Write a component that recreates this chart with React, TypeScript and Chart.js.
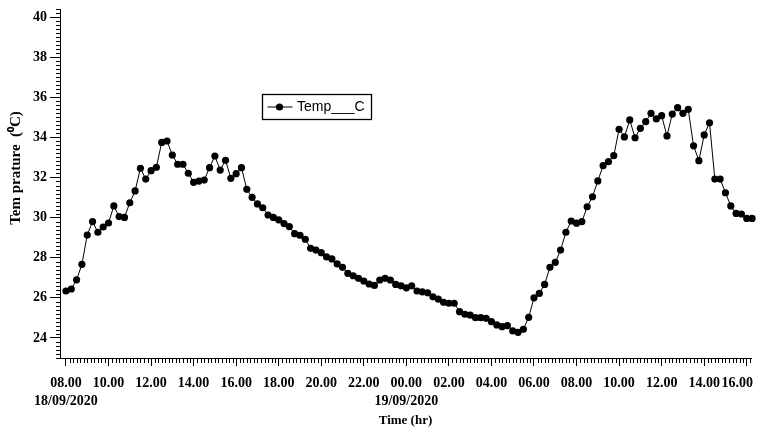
import React, { useEffect, useRef } from 'react';
import { Chart, registerables } from 'chart.js';

Chart.register(...registerables);

// ---- data ----
const seriesLabel = 'Temp___C';
const startClockHour = 8; // 08.00 on 18/09/2020
const stepHours = 0.25; // one reading every 15 minutes
const temperatures = [
  26.34, 26.44, 26.9, 27.67, 29.13, 29.8, 29.27, 29.53, 29.73, 30.58,
  30.05, 30.01, 30.74, 31.33, 32.46, 31.92, 32.34, 32.51, 33.75, 33.82,
  33.12, 32.66, 32.66, 32.21, 31.76, 31.82, 31.87, 32.49, 33.07, 32.37,
  32.86, 31.96, 32.19, 32.49, 31.41, 31.01, 30.68, 30.49, 30.13, 30.01,
  29.89, 29.7, 29.55, 29.2, 29.12, 28.92, 28.47, 28.38, 28.25, 28.04,
  27.94, 27.69, 27.52, 27.22, 27.1, 26.97, 26.84, 26.69, 26.62, 26.89,
  26.97, 26.89, 26.67, 26.6, 26.5, 26.6, 26.34, 26.3, 26.25, 26.05,
  25.94, 25.78, 25.73, 25.73, 25.31, 25.18, 25.14, 25.01, 25.01, 24.98,
  24.81, 24.65, 24.56, 24.61, 24.35, 24.28, 24.43, 25.03, 26.0, 26.22,
  26.67, 27.52, 27.77, 28.38, 29.27, 29.83, 29.72, 29.8, 30.54, 31.04,
  31.83, 32.59, 32.79, 33.09, 34.4, 34.02, 34.87, 33.98, 34.45, 34.78,
  35.2, 34.92, 35.08, 34.07, 35.16, 35.48, 35.2, 35.4, 33.58, 32.84,
  34.12, 34.73, 31.92, 31.92, 31.24, 30.58, 30.21, 30.18, 29.96, 29.96,
];
const xMajorTicks = [0, 2, 4, 6, 8, 10, 12, 14, 16, 18, 20, 22, 24, 26, 28, 30, 32];
const dateTickHours = [0, 16];
const dateTickLabels = ['18/09/2020', '19/09/2020'];
const yMajorTicks = [24, 26, 28, 30, 32, 34, 36, 38, 40];
const xTitle = 'Time (hr)';
const yTitle = 'Tem prature  (\u2070C)';

const SERIF = "'Liberation Serif', 'Times New Roman', serif";
const SANS = "'Liberation Sans', Arial, sans-serif";

function clockLabel(h: number): string {
  const hh = (startClockHour + h) % 24;
  return (hh < 10 ? '0' : '') + hh + '.00';
}

const decorPlugin = {
  id: 'decor',
  afterDraw(chart: any) {
    const { ctx, chartArea, scales } = chart;
    const x = scales.x;
    const y = scales.y;
    ctx.save();
    ctx.strokeStyle = '#000';
    ctx.lineWidth = 1;
    ctx.beginPath();
    // minor x ticks every 10 minutes
    for (let m = 0; m <= Math.floor(x.max * 6); m++) {
      if (m % 12 === 0) continue;
      const px = Math.round(x.getPixelForValue(m / 6)) + 0.5;
      ctx.moveTo(px, chartArea.bottom);
      ctx.lineTo(px, chartArea.bottom + 5);
    }
    // minor y ticks every 0.2
    for (let k = Math.ceil(y.min * 5); k <= Math.floor(y.max * 5); k++) {
      if (k % 10 === 0) continue;
      const py = Math.round(y.getPixelForValue(k / 5)) + 0.5;
      ctx.moveTo(chartArea.left - 4, py);
      ctx.lineTo(chartArea.left, py);
    }
    ctx.stroke();

    // last x label kept inside the canvas
    ctx.fillStyle = '#000';
    ctx.font = 'bold 14px ' + SERIF;
    ctx.textAlign = 'right';
    ctx.textBaseline = 'middle';
    ctx.fillText(clockLabel(32), 753, chartArea.bottom + 25);

    // y title
    ctx.save();
    ctx.translate(16, 168);
    ctx.rotate(-Math.PI / 2);
    ctx.font = 'bold 15px ' + SERIF;
    ctx.textAlign = 'center';
    ctx.textBaseline = 'middle';
    ctx.fillText(yTitle, 0, 0);
    ctx.restore();

    // legend box
    const bx = 262.5, by = 94.5, bw = 109, bh = 25;
    ctx.lineWidth = 1.3;
    ctx.strokeRect(bx, by, bw, bh);
    const cy = by + bh / 2;
    ctx.lineWidth = 1;
    ctx.beginPath();
    ctx.moveTo(bx + 5, cy);
    ctx.lineTo(bx + 30, cy);
    ctx.stroke();
    ctx.beginPath();
    ctx.arc(bx + 17, cy, 3.6, 0, Math.PI * 2);
    ctx.fill();
    ctx.font = '14px ' + SANS;
    ctx.textAlign = 'left';
    ctx.textBaseline = 'middle';
    ctx.fillText(chart.data.datasets[0].label, bx + 34.5, cy + 0.5);
    ctx.restore();
  },
};

export default function App() {
  const ref = useRef<HTMLCanvasElement | null>(null);
  useEffect(() => {
    if (!ref.current) return;
    const chart = new Chart(ref.current, {
      type: 'line',
      data: {
        datasets: [
          {
            label: seriesLabel,
            data: temperatures.map((t, i) => ({ x: i * stepHours, y: t })),
            borderColor: '#000',
            borderWidth: 1,
            backgroundColor: '#000',
            pointRadius: 3.6,
            pointBackgroundColor: '#000',
            pointBorderColor: '#000',
            pointBorderWidth: 0,
            tension: 0,
            clip: false as any,
          },
        ],
      },
      options: {
        responsive: false,
        animation: false,
        devicePixelRatio: 1,
        layout: { padding: { left: 0, top: 9, right: 7, bottom: 0 } },
        plugins: { legend: { display: false }, tooltip: { enabled: false } },
        scales: {
          x: {
            type: 'linear',
            min: -0.28,
            max: 32.2,
            afterFit: (s: any) => {
              s.height = 76;
              s.paddingLeft = 0;
              s.paddingRight = 0;
            },
            afterBuildTicks: (s: any) => {
              s.ticks = xMajorTicks.map((v) => ({ value: v }));
            },
            grid: {
              display: true,
              drawOnChartArea: false,
              drawTicks: true,
              tickLength: 8,
              tickColor: '#000',
              color: '#000',
            },
            border: { display: true, color: '#000', width: 1 },
            ticks: {
              autoSkip: false,
              maxRotation: 0,
              minRotation: 0,
              padding: 8,
              color: '#000',
              font: { family: SERIF, size: 14, weight: 'bold', lineHeight: 1.3 },
              callback: (v: any) => {
                const h = Number(v);
                if (h === 32) return '';
                const di = dateTickHours.indexOf(h);
                if (di >= 0) return [clockLabel(h), dateTickLabels[di]];
                return clockLabel(h);
              },
            },
            title: {
              display: true,
              text: xTitle,
              color: '#000',
              font: { family: SERIF, size: 13, weight: 'bold' },
              padding: { top: 0, bottom: 6 },
            },
          },
          y: {
            type: 'linear',
            min: 23,
            max: 40.4,
            afterFit: (s: any) => {
              s.width = 60;
              s.paddingTop = 0;
              s.paddingBottom = 0;
            },
            afterBuildTicks: (s: any) => {
              s.ticks = yMajorTicks.map((v) => ({ value: v }));
            },
            grid: {
              display: true,
              drawOnChartArea: false,
              drawTicks: true,
              tickLength: 10,
              tickColor: '#000',
              color: '#000',
            },
            border: { display: true, color: '#000', width: 1 },
            ticks: {
              autoSkip: false,
              padding: 3,
              color: '#000',
              font: { family: SERIF, size: 14, weight: 'bold' },
              callback: (v: any) => String(v),
            },
            title: { display: false },
          },
        },
      } as any,
      plugins: [decorPlugin],
    });
    return () => chart.destroy();
  }, []);
  return (
    <div style={{ position: 'fixed', left: 0, top: 0, width: 758, height: 434, background: '#fff' }}>
      <canvas ref={ref} width={758} height={434} style={{ display: 'block' }} />
    </div>
  );
}
